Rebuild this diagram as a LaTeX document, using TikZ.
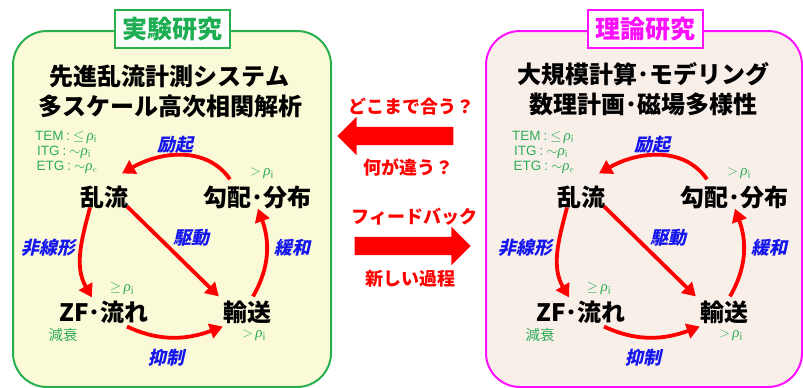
\documentclass[tikz,border=0pt]{standalone}
\usepackage{fontspec}
\setmainfont{Noto Sans CJK JP}[Kerning=Off]
\newfontfamily\jpslant[FakeSlant=0.22,Kerning=Off]{Noto Sans CJK JP}
\newfontfamily\rhofont{Liberation Serif}
\newfontfamily\latinlab{Liberation Sans}
\newcommand\myrho[1]{{\rhofont\itshape\fontsize{15}{15}\selectfont ρ}$_{#1}$}
\newcommand\mycolon{\hspace{3pt}:\hspace{3pt}}
\usetikzlibrary{arrows.meta,shapes.arrows}
\definecolor{gbord}{HTML}{28B04C}
\definecolor{gtitle}{HTML}{1EAE52}
\definecolor{glab}{HTML}{2DAD58}
\definecolor{magb}{HTML}{FF10FF}
\definecolor{yfill}{HTML}{FAFAD9}
\definecolor{pfill}{HTML}{F9EFE9}
\definecolor{lblue}{HTML}{1515EE}
\definecolor{ared}{HTML}{FF0000}
\tikzset{
  panelbox/.style={line width=2pt, rounded corners=34pt},
  titlebox/.style={draw, fill=white, line width=2pt, minimum width=115pt, minimum height=38pt, inner sep=0pt, font=\fontsize{25}{27}\selectfont\bfseries},
  headtxt/.style={font=\fontsize{24}{26}\selectfont\bfseries, inner sep=0pt},
  cyc/.style={font=\fontsize{24}{26}\selectfont\bfseries, inner sep=1pt},
  bluelab/.style={text=lblue, font=\fontsize{18}{20}\selectfont\jpslant\bfseries, inner sep=0pt},
  greenlab/.style={text=glab, font=\fontsize{14.5}{15}\selectfont, inner sep=0pt},
  greenlat/.style={text=glab, font=\fontsize{13.5}{14}\selectfont\latinlab, inner sep=0pt},
  redarr/.style={draw=ared, line width=3.8pt, -{Triangle[length=13pt,width=15pt]}},
  bigarrow/.style={single arrow, fill=ared, draw=none, minimum height=116pt, inner sep=9pt, single arrow head extend=10pt, single arrow head indent=0pt},
  redtxt/.style={text=ared, font=\fontsize{18}{20}\selectfont\bfseries, inner sep=0pt},
}
\newcommand\mycycle[1]{%
  \node[cyc] (#1tu) at (104,197) {乱流};
  \node[cyc] (#1gr) at (257,197) {勾配･分布};
  \node[cyc] (#1zf) at (104,312) {ZF･流れ};
  \node[cyc] (#1ts) at (247,312) {輸送};
  \draw[redarr] ([shift={(-27,-5)}]#1gr.north) to[out=125,in=30] ([shift={(18,-11)}]#1tu.north);
  \draw[redarr] ([shift={(-14,-2)}]#1tu.south) to[out=-105,in=120] ([shift={(-12,-2)}]#1zf.north);
  \draw[redarr] ([shift={(-2,-3)}]#1tu.south east) -- ([shift={(-3,-3)}]#1ts.north west);
  \draw[redarr] ([shift={(6,-3)}]#1ts.north) to[out=60,in=-70] ([shift={(1,-1)}]#1gr.south);
  \draw[redarr] ([shift={(23,2)}]#1zf.south) to[out=-25,in=200] ([shift={(1,2)}]#1ts.south west);
  \node[bluelab] (#1l1) at (175,145) {励起};
  \node[bluelab] (#1l2) at (191,238) {駆動};
  \node[bluelab] (#1l3) at (48,248) {非線形};
  \node[bluelab] (#1l4) at (292,248) {緩和};
  \node[bluelab] (#1l5) at (166,358) {抑制};
  \node[greenlat, anchor=base] (#1g1a) at (66,140) {TEM\mycolon$\le$\,\myrho{\mathrm{i}}};
  \node[greenlat, anchor=base] (#1g1b) at (64,155) {ITG\mycolon${\sim}$\myrho{\mathrm{i}}};
  \node[greenlat, anchor=base] (#1g1c) at (67,170) {ETG\mycolon${\sim}$\myrho{e}};
  \node[greenlab] (#1g2) at (262,173) {$>$\,\myrho{\mathrm{i}}};
  \node[greenlab] (#1g3) at (122,289) {$\ge$\,\myrho{\mathrm{i}}};
  \node[greenlab] (#1g4) at (63,335) {減衰};
  \node[greenlab] (#1g5) at (254,335) {$>$\,\myrho{\mathrm{i}}};
}
\begin{document}
\begin{tikzpicture}[x=1pt,y=-1pt]
\useasboundingbox (0,0) rectangle (803,388);
% left panel
\draw[panelbox, draw=gbord, fill=yfill] (13,31) rectangle (331,387);
\node[titlebox, draw=gbord, text=gtitle] (tL) at (172.5,29) {実験研究};
\node[headtxt] (hL1) at (169,76) {先進乱流計測システム};
\node[headtxt] (hL2) at (170,106) {多スケール高次相関解析};
\mycycle{L}
% right panel
\draw[panelbox, draw=magb, fill=pfill] (486,31) rectangle (802,387);
\node[titlebox, draw=magb, text=magb] (tR) at (645,29) {理論研究};
\node[headtxt] (hR1) at (643,74) {大規模計算･モデリング};
\node[headtxt] (hR2) at (643,104) {数理計画･磁場多様性};
\begin{scope}[xshift=477pt]
\mycycle{R}
\end{scope}
% middle
\node[redtxt] (q1) at (411,107) {どこまで合う？};
\node[bigarrow, shape border rotate=180] (aL) at (400,136) {};
\node[redtxt] (q2) at (408,167) {何が違う？};
\node[redtxt] (q3) at (414,217) {フィードバック};
\node[bigarrow] (aR) at (408,246) {};
\node[redtxt] (q4) at (410,279) {新しい過程};
\end{tikzpicture}
\end{document}
